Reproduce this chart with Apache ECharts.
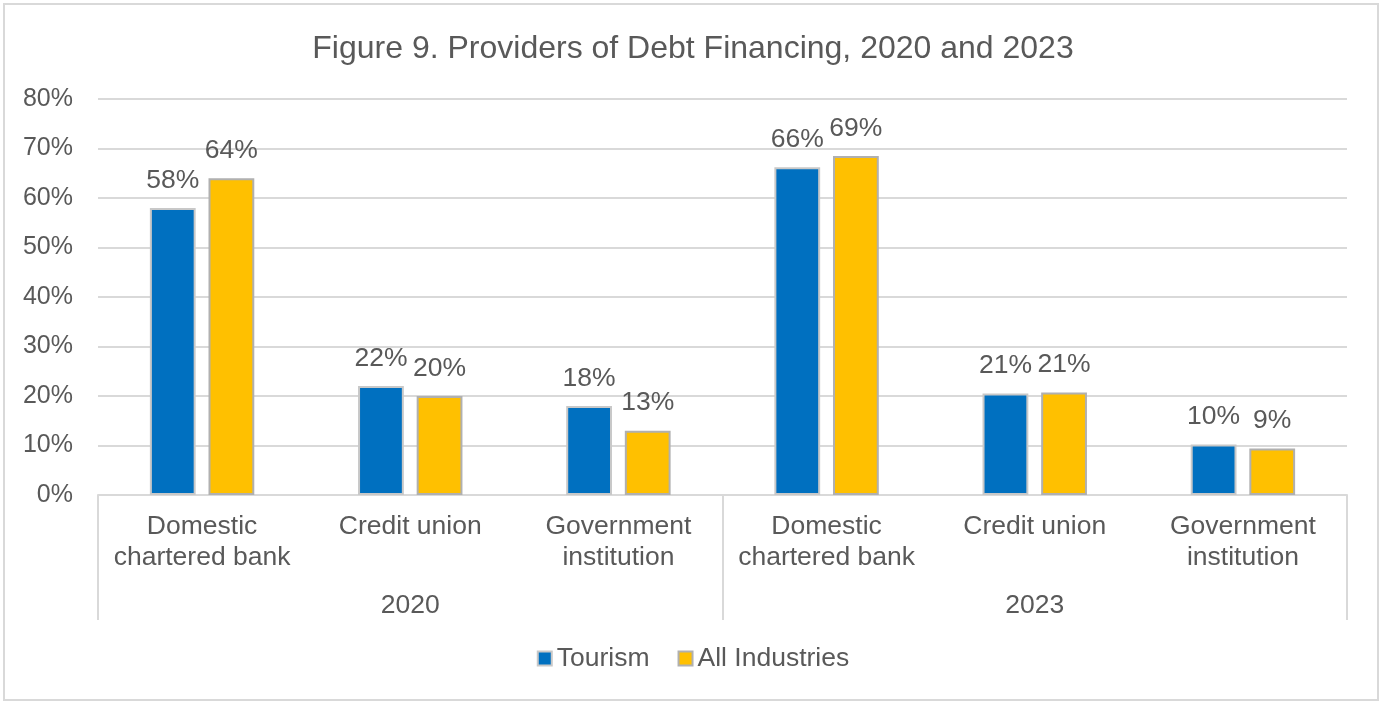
<!DOCTYPE html>
<html>
<head>
<meta charset="utf-8">
<script src="https://cdn.jsdelivr.net/npm/echarts@6/dist/echarts.min.js"></script>
<style>
  html, body { margin: 0; padding: 0; background: #fff; }
</style>
</head>
<body>
<div id="debtChart" style="width: 1386px;height: 708px"></div>
<script>
  // categories (two years, three providers each)
  var providers = ['Domestic\nchartered bank', 'Credit union', 'Government\ninstitution',
                   'Domestic\nchartered bank', 'Credit union', 'Government\ninstitution'];
  var years = ['2020', '2023'];
  var tourism = [58, 22, 18, 66.2, 20.5, 10.2];
  var allIndustries = [64, 20, 13, 68.5, 20.7, 9.4];
  var yTicks = [0, 10, 20, 30, 40, 50, 60, 70, 80];

  var textColor = '#595959';
  var lineColor = '#d9d9d9';
  var font = 'Arial, "Liberation Sans", sans-serif';
  var fs = 26.5;

  var chart = echarts.init(document.getElementById('debtChart'));

  var barLabel = {
    show: true,
    position: 'top',
    distance: 14,
    color: textColor,
    fontSize: fs,
    fontFamily: font,
    formatter: function (p) { return Math.round(p.value) + '%'; }
  };

  var option = {
    backgroundColor: '#fff',
    title: {
      text: 'Figure 9. Providers of Debt Financing, 2020 and 2023',
      left: 'center',
      top: 28,
      textStyle: { color: textColor, fontSize: 32, fontWeight: 'normal', fontFamily: font }
    },
    legend: {
      bottom: 31,
      left: 'center',
      icon: 'rect',
      itemWidth: 14,
      itemHeight: 14,
      itemGap: 28,
      textStyle: { color: textColor, fontSize: fs, fontFamily: font },
      data: ['Tourism', 'All Industries']
    },
    grid: { left: 98, right: 39, top: 99, bottom: 213 },
    xAxis: [
      {
        type: 'category',
        data: providers,
        axisLine: { lineStyle: { color: lineColor, width: 2 } },
        axisTick: { show: false },
        axisLabel: { color: textColor, fontSize: fs, fontFamily: font, lineHeight: 31, margin: 16, interval: 0 }
      },
      {
        type: 'category',
        data: years,
        position: 'bottom',
        axisLine: { show: false },
        axisTick: { show: true, length: 125, lineStyle: { color: lineColor, width: 2 } },
        axisLabel: { color: textColor, fontSize: fs, fontFamily: font, margin: 97 },
        splitLine: { show: false }
      }
    ],
    yAxis: {
      type: 'value',
      min: yTicks[0],
      max: yTicks[yTicks.length - 1],
      interval: 10,
      axisLine: { show: false },
      axisTick: { show: false },
      axisLabel: { color: textColor, fontSize: 25, fontFamily: font, margin: 25, formatter: '{value}%' },
      splitLine: { lineStyle: { color: lineColor, width: 2 } }
    },
    series: [
      {
        name: 'Tourism',
        type: 'bar',
        data: tourism,
        barWidth: '22%',
        barGap: '28%',
        itemStyle: { color: '#0070c0', borderColor: '#c8c8c8', borderWidth: 2 },
        label: barLabel
      },
      {
        name: 'All Industries',
        type: 'bar',
        data: allIndustries,
        barWidth: '22%',
        itemStyle: { color: '#ffc000', borderColor: '#b0b0b0', borderWidth: 2 },
        label: barLabel
      }
    ],
    graphic: [
      {
        type: 'rect',
        shape: { x: 4, y: 4, width: 1374, height: 696 },
        style: { fill: 'none', stroke: lineColor, lineWidth: 2 },
        silent: true
      }
    ]
  };

  chart.setOption(option);
</script>
</body>
</html>
